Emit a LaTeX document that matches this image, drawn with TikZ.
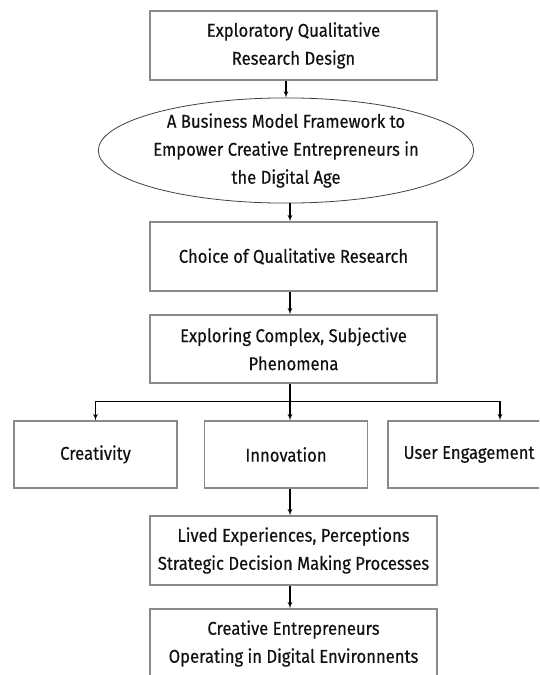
\documentclass[tikz,border=0pt]{standalone}
\usepackage{fontspec}
\setmainfont{Fira Sans}[FakeStretch=0.9,FakeBold=0.3]
\usepackage{xcolor}
\usepackage{tikz}
\usetikzlibrary{arrows}
\usetikzlibrary{shapes.geometric}
\tikzset{>=latex'}
\definecolor{rim}{HTML}{8A8A8A}
\definecolor{ink}{HTML}{111111}

\begin{document}
\begin{tikzpicture}[x=1pt,y=-1pt,
	font=\fontsize{18.5}{28}\selectfont,
	box/.style={draw=rim,line width=1.4pt,fill=white,text=ink,align=center,inner sep=0pt},
	oval/.style={draw=black!75,line width=0.8pt,ellipse,text=ink,align=center,inner sep=0pt},
	link/.style={->,line width=1.1pt}]
	\clip (0,0) rectangle (539,675);
	\useasboundingbox (0,0) rectangle (539,675);
	\node[box,minimum width=287pt,minimum height=69pt] (design) at (293.5,45.5) {Exploratory Qualitative\\Research Design};
	\node[oval,minimum width=308pt,minimum height=93pt] (framework) at (286,150.5) {A Business Model Framework to\\Empower Creative Entrepreneurs in\\the Digital Age};
	\node[box,minimum width=287pt,minimum height=69pt] (choice) at (293.5,256.5) {Choice of Qualitative Research};
	\node[box,minimum width=287pt,minimum height=68pt] (exploring) at (293.5,349) {Exploring Complex, Subjective\\Phenomena};
	\node[box,minimum width=163pt,minimum height=67pt] (creativity) at (95.5,454.5) {Creativity};
	\node[box,minimum width=163pt,minimum height=67pt] (innovation) at (286,454.5) {Innovation};
	\node[box,minimum width=162pt,minimum height=67pt] (engagement) at (469,454.5) {User Engagement};
	\node[box,minimum width=287pt,minimum height=69pt] (lived) at (293.5,550.5) {Lived Experiences, Perceptions\\Strategic Decision Making Processes};
	\node[box,minimum width=287pt,minimum height=69pt] (operating) at (293.5,643.5) {Creative Entrepreneurs\\Operating in Digital Environnents};
	% spine and fork point
	\coordinate (fork) at (290,401.5);
	\draw[link] (design.south -| framework.north) -- (framework.north);
	\draw[link] (framework.south -| fork) -- (choice.north -| fork);
	\draw[link] (choice.south -| fork) -- (exploring.north -| fork);
	\draw[line width=1.1pt] (exploring.south -| fork) -- (fork);
	\draw[link] (fork) -| (creativity.north);
	\draw[link] (fork) -- (innovation.north -| fork);
	\draw[link] (fork) -| ([xshift=31pt]engagement.north);
	\draw[link] (innovation.south -| fork) -- (lived.north -| fork);
	\draw[link] (lived.south -| fork) -- (operating.north -| fork);
\end{tikzpicture}
\end{document}
